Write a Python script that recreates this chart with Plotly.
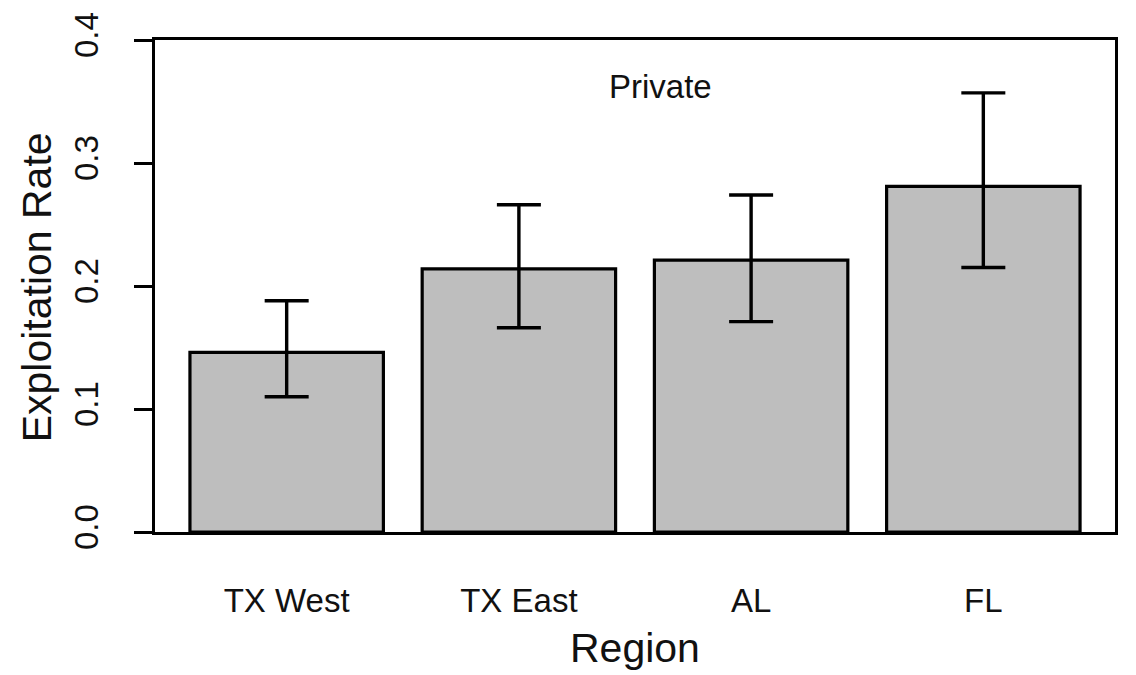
import plotly.graph_objects as go

# Exploitation rate by region (private sector), with lower/upper interval bounds
regions = ["TX West", "TX East", "AL", "FL"]
rate = [0.146, 0.214, 0.221, 0.281]
upper = [0.188, 0.266, 0.274, 0.357]
lower = [0.110, 0.166, 0.171, 0.215]
y_ticks = [0.0, 0.1, 0.2, 0.3, 0.4]

err_plus = [u - r for u, r in zip(upper, rate)]
err_minus = [r - l for r, l in zip(rate, lower)]

FONT = "Liberation Sans, Arial, sans-serif"
INK = "#111111"
LW = 3.2

fig = go.Figure(
    go.Bar(
        x=regions,
        y=rate,
        marker=dict(color="#bebebe", line=dict(color="black", width=LW)),
        error_y=dict(
            type="data",
            symmetric=False,
            array=err_plus,
            arrayminus=err_minus,
            color="black",
            thickness=3.4,
            width=22,
        ),
        hoverinfo="x+y",
    )
)

fig.update_layout(
    width=1136,
    height=675,
    margin=dict(l=155, r=21, t=40, b=143),
    paper_bgcolor="white",
    plot_bgcolor="white",
    bargap=0.167,
    showlegend=False,
    font=dict(family=FONT, color=INK, size=33),
    annotations=[
        dict(text="Private", xref="paper", yref="paper", x=0.527, y=0.905,
             showarrow=False, font=dict(size=33, family=FONT, color=INK),
             xanchor="center", yanchor="middle"),
        dict(text="Exploitation Rate", xref="paper", yref="paper", x=-0.122, y=0.497,
             showarrow=False, textangle=-90, font=dict(size=41, family=FONT, color=INK),
             xanchor="center", yanchor="middle"),
        dict(text="Region", xref="paper", yref="paper", x=0.5, y=-0.236,
             showarrow=False, font=dict(size=41, family=FONT, color=INK),
             xanchor="center", yanchor="middle"),
    ],
)

fig.update_xaxes(
    type="category",
    range=[-0.567, 3.567],
    showline=True, linecolor="black", linewidth=LW, mirror=True,
    ticks="", showgrid=False, zeroline=False,
    tickfont=dict(size=33, family=FONT, color=INK),
    ticklabelstandoff=37,
)

fig.update_yaxes(
    range=[0, 0.4],
    tickvals=y_ticks,
    tickformat=".1f",
    showline=True, linecolor="black", linewidth=LW, mirror=True,
    ticks="outside", ticklen=18, tickwidth=2.8, tickcolor="black",
    tickangle=-90,
    showgrid=False, zeroline=False,
    tickfont=dict(size=33, family=FONT, color=INK),
    ticklabelstandoff=23,
)

fig.write_html("out.html")
